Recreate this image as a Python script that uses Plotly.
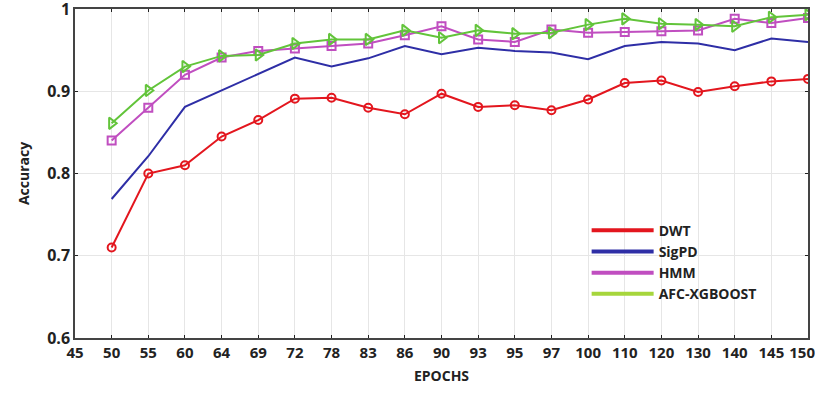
import plotly.graph_objects as go

epoch_labels = ["45", "50", "55", "60", "64", "69", "72", "78", "83", "86", "90",
                "93", "95", "97", "100", "110", "120", "130", "140", "145", "150"]
data_epochs = epoch_labels[1:]

dwt = [0.710, 0.800, 0.810, 0.845, 0.865, 0.891, 0.892, 0.880, 0.872, 0.897,
       0.881, 0.883, 0.877, 0.890, 0.910, 0.913, 0.899, 0.906, 0.912, 0.915]
sigpd = [0.769, 0.821, 0.881, 0.901, 0.920, 0.941, 0.930, 0.940, 0.955, 0.945,
         0.953, 0.949, 0.947, 0.939, 0.955, 0.960, 0.958, 0.950, 0.964, 0.960]
hmm = [0.840, 0.880, 0.920, 0.941, 0.949, 0.952, 0.955, 0.958, 0.968, 0.979,
       0.963, 0.960, 0.975, 0.971, 0.972, 0.973, 0.974, 0.988, 0.983, 0.989]
afc = [0.861, 0.901, 0.930, 0.943, 0.944, 0.958, 0.963, 0.963, 0.974, 0.965,
       0.974, 0.970, 0.971, 0.981, 0.988, 0.982, 0.981, 0.979, 0.990, 0.993]

y_ticks = [0.6, 0.7, 0.8, 0.9, 1.0]
y_tick_text = ["0.6", "0.7", "0.8", "0.9", "1"]

series = [
    ("DWT", dwt, "#e3161e", "circle-open", 8),
    ("SigPD", sigpd, "#2e2ea6", None, 0),
    ("HMM", hmm, "#c04ec0", "square-open", 8),
    ("AFC-XGBOOST", afc, "#62c43a", "triangle-right-open", 10),
]
legend_colors = ["#e3161e", "#2e2ea6", "#c04ec0", "#a6d63c"]

fig = go.Figure()
for (name, vals, color, sym, size) in series:
    if sym:
        fig.add_trace(go.Scatter(x=data_epochs, y=vals, mode="lines+markers",
                                 line=dict(color=color, width=2),
                                 marker=dict(symbol=sym, size=size, color=color,
                                             line=dict(width=2, color=color)),
                                 showlegend=False, name=name))
    else:
        fig.add_trace(go.Scatter(x=data_epochs, y=vals, mode="lines",
                                 line=dict(color=color, width=2),
                                 showlegend=False, name=name))
for (name, _, _, _, _), lc in zip(series, legend_colors):
    fig.add_trace(go.Scatter(x=[None], y=[None], mode="lines",
                             line=dict(color=lc, width=4), name=name))

# pad last label so it stays within the page, as in the original
x_tick_text = epoch_labels[:-1] + [epoch_labels[-1] + "\u00a0" * 3]

fig.update_layout(
    width=815, height=400,
    margin=dict(l=75, r=7, t=9, b=62, autoexpand=False),
    paper_bgcolor="white", plot_bgcolor="white",
    font=dict(family="Open Sans, Liberation Sans, sans-serif", color="#222"),
    legend=dict(x=0.698, y=0.375, xanchor="left", yanchor="top",
                bgcolor="rgba(255,255,255,0)",
                font=dict(size=14, color="#222", family="Open Sans, sans-serif", weight="bold"),
                tracegroupgap=0, itemwidth=62),
)
fig.update_xaxes(
    type="category", categoryorder="array", categoryarray=epoch_labels,
    tickmode="array", tickvals=epoch_labels, ticktext=x_tick_text,
    range=[0, len(epoch_labels) - 1], tickangle=0, automargin=False,
    showgrid=True, gridcolor="#e6e6e6", gridwidth=1,
    showline=True, linecolor="#444", linewidth=1.5, mirror="ticks",
    ticks="inside", ticklen=3, tickcolor="#222",
    tickfont=dict(size=15, color="#222", weight="bold"),
    title=dict(text="EPOCHS", font=dict(size=14, color="#222", weight="bold"), standoff=10),
)
fig.update_yaxes(
    range=[0.6, 1.0], tickmode="array", tickvals=y_ticks, ticktext=y_tick_text,
    ticklabeloverflow="allow", automargin=False,
    showgrid=True, gridcolor="#e6e6e6", gridwidth=1,
    showline=True, linecolor="#444", linewidth=1.5, mirror="ticks",
    ticks="inside", ticklen=3, tickcolor="#222",
    tickfont=dict(size=16, color="#222", weight="bold"),
    title=dict(text="Accuracy", font=dict(size=14, color="#222", weight="bold"), standoff=14),
    zeroline=False,
)
fig.write_html(
    "out.html",
    config={"displayModeBar": False},
    post_script="document.body.style.margin='0';document.body.style.overflow='hidden';",
)
